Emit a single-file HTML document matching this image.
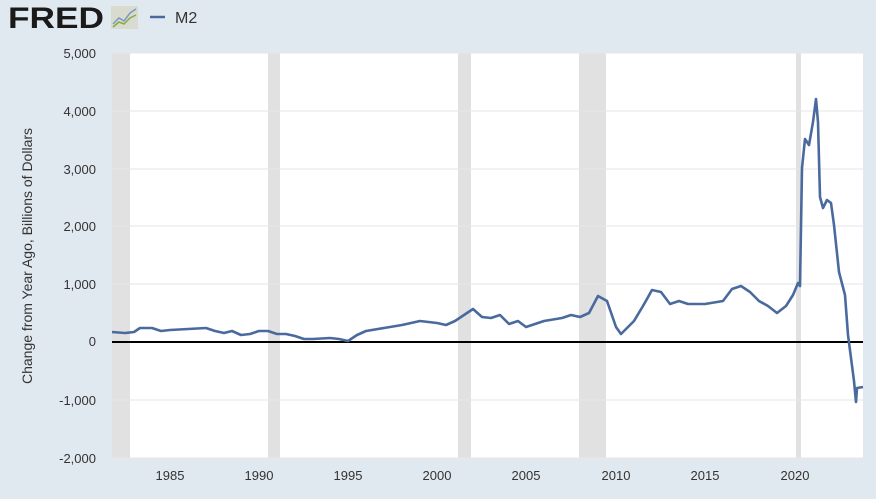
<!DOCTYPE html>
<html><head><meta charset="utf-8"><style>
body{margin:0;width:876px;height:494px;background:#e1e9f0;overflow:hidden;font-family:"Liberation Sans",sans-serif}
</style></head><body>
<svg width="876" height="494" xmlns="http://www.w3.org/2000/svg" font-family="Liberation Sans, sans-serif">
<rect width="876" height="494" fill="#e1e9f0"/>
<text x="8" y="28" font-size="30" font-weight="bold" fill="#1a1a1a" textLength="96" lengthAdjust="spacingAndGlyphs">FRED</text>
<rect x="111" y="6" width="27" height="23" fill="#d8dcd0"/>
<polyline points="113,24 119,18 124,21 130,13 136,9" fill="none" stroke="#7a98c0" stroke-width="1.5"/>
<polyline points="113,27 119,22 124,24 130,18 136,15" fill="none" stroke="#8aaa40" stroke-width="1.5"/>
<line x1="150" y1="17" x2="165" y2="17" stroke="#4a6a9e" stroke-width="2.5"/>
<text x="175" y="23" font-size="16" fill="#333">M2</text>
<rect x="112" y="53" width="751" height="405" fill="#fff"/>
<g fill="#e1e1e1">
<rect x="112" y="53" width="18" height="405"/>
<rect x="268" y="53" width="12" height="405"/>
<rect x="458" y="53" width="13" height="405"/>
<rect x="579" y="53" width="27" height="405"/>
<rect x="796" y="53" width="5" height="405"/>
</g>
<g stroke="#e6e6e6" stroke-width="1">
<line x1="112" y1="53" x2="863" y2="53"/><line x1="112" y1="111" x2="863" y2="111"/>
<line x1="112" y1="169" x2="863" y2="169"/><line x1="112" y1="226" x2="863" y2="226"/>
<line x1="112" y1="284" x2="863" y2="284"/><line x1="112" y1="400" x2="863" y2="400"/>
<line x1="112" y1="458" x2="863" y2="458"/>
</g>
<line x1="112" y1="342" x2="863" y2="342" stroke="#000" stroke-width="2"/>
<g font-size="13" fill="#333" text-anchor="end">
<text x="96" y="58">5,000</text><text x="96" y="116">4,000</text><text x="96" y="174">3,000</text>
<text x="96" y="231">2,000</text><text x="96" y="289">1,000</text><text x="96" y="346">0</text>
<text x="96" y="405">-1,000</text><text x="96" y="463">-2,000</text>
</g>
<g font-size="13" fill="#333" text-anchor="middle">
<text x="170" y="480">1985</text><text x="259" y="480">1990</text><text x="348" y="480">1995</text>
<text x="437" y="480">2000</text><text x="526" y="480">2005</text><text x="616" y="480">2010</text>
<text x="705" y="480">2015</text><text x="795" y="480">2020</text>
</g>
<text transform="translate(32,256) rotate(-90)" font-size="14" fill="#333" text-anchor="middle">Change from Year Ago, Billions of Dollars</text>
<polyline fill="none" stroke="#4a6a9e" stroke-width="2.6" stroke-linejoin="round" points="
112,332 125,333 134,332 140,328 152,328 161,331 170,330 188,329 206,328 215,331 224,333 232,331 241,335 250,334 259,331 268,331 277,334 286,334 295,336 304,339 313,339 330,338 339,339 348,341 357,335 366,331 384,328 402,325 420,321 437,323 446,325 455,321 464,315 473,309 482,317 491,318 500,315 509,324 518,321 526,327 535,324 544,321 562,318 571,315 580,317 589,313 598,296 607,301 616,327 621,334 634,321 643,306 652,290 661,292 670,304 679,301 688,304 705,304 723,301 732,289 741,286 750,292 759,301 768,306 777,313 786,306 793,295 798,283 800,286 802,168 805,139 809,145 813,122 816,99 818,122 820,197 823,208 827,200 831,203 834,225 839,272 845,295 848,335 854,381 856,402 857,388 863,387"/>
</svg>
</body></html>
